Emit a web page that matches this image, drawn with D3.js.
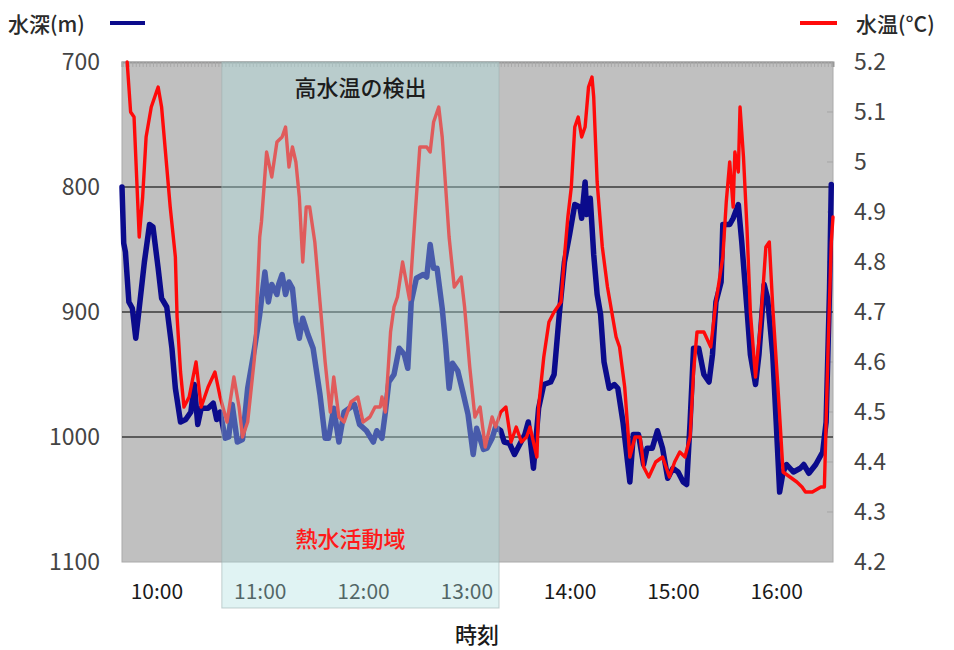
<!DOCTYPE html>
<html>
<head>
<meta charset="utf-8">
<script src="https://cdn.jsdelivr.net/npm/d3@7"></script>
<style>
  body { margin: 0; background: #fff; }
  text { font-family: "Noto Sans CJK JP", "Noto Sans", sans-serif; }
</style>
</head>
<body>
<div id="chart"></div>
<script>
// depth (m) over time
var depthSeries = [
  ["09:40",800],["09:41",845],["09:42",852],["09:44",892],["09:46",897],["09:48",921],["09:50",897],
  ["09:53",860],["09:56",830],["09:58",832],["10:01",865],["10:03",889],["10:06",896],["10:09",929],
  ["10:11",961],["10:14",988],["10:17",986],["10:20",980],["10:22",958],["10:24",990],["10:26",977],
  ["10:30",977],["10:33",973],["10:35",986],["10:37",980],["10:40",1001],["10:42",1000],["10:44",974],
  ["10:47",1004],["10:50",1002],["10:53",961],["10:57",929],["11:00",902],["11:03",868],["11:05",892],
  ["11:07",878],["11:10",886],["11:11",878],["11:13",870],["11:15",886],["11:17",876],["11:19",881],
  ["11:21",908],["11:23",921],["11:25",905],["11:28",918],["11:31",929],["11:35",966],["11:38",1001],
  ["11:40",1001],["11:43",977],["11:46",1004],["11:49",980],["11:52",977],["11:55",974],["11:58",990],
  ["12:02",995],["12:06",1004],["12:08",995],["12:11",1001],["12:13",980],["12:15",956],["12:18",950],
  ["12:21",929],["12:24",934],["12:26",945],["12:28",892],["12:31",873],["12:35",870],["12:37",872],
  ["12:39",846],["12:41",865],["12:43",865],["12:46",897],["12:48",926],["12:50",961],["12:52",941],
  ["12:55",947],["12:58",964],["13:01",982],["13:04",1014],["13:06",993],["13:10",1010],["13:12",1009],
  ["13:15",1001],["13:17",992],["13:20",995],["13:22",1004],["13:25",1005],["13:28",1014],["13:31",1006],
  ["13:34",998],["13:36",988],["13:39",1025],["13:42",977],["13:45",958],["13:49",956],["13:51",950],
  ["13:54",902],["13:57",860],["14:00",838],["14:03",814],["14:06",816],["14:07",825],["14:09",796],
  ["14:10",822],["14:12",809],["14:14",854],["14:16",886],["14:18",902],["14:20",940],["14:23",961],
  ["14:26",958],["14:28",961],["14:31",988],["14:35",1036],["14:37",998],["14:40",998],["14:43",1022],
  ["14:45",1009],["14:48",1009],["14:51",995],["14:54",1009],["14:57",1033],["15:00",1025],["15:03",1028],
  ["15:06",1036],["15:08",1038],["15:10",988],["15:12",929],["15:15",929],["15:18",950],["15:21",956],
  ["15:23",934],["15:25",892],["15:28",876],["15:29",830],["15:33",830],["15:35",825],["15:38",814],
  ["15:40",844],["15:43",897],["15:45",934],["15:48",958],["15:50",934],["15:53",878],["15:55",889],
  ["15:58",934],["16:00",988],["16:02",1044],["16:04",1028],["16:06",1022],["16:10",1028],["16:14",1025],
  ["16:16",1022],["16:19",1029],["16:23",1022],["16:27",1012],["16:29",988],["16:31",881],["16:32",798]
];

// water temperature (C) over time
var tempSeries = [
  ["09:43",5.2],["09:45",5.10],["09:47",5.09],["09:48",5.01],["09:50",4.85],["09:52",4.93],["09:54",5.05],
  ["09:57",5.11],["10:01",5.15],["10:03",5.11],["10:06",4.99],["10:08",4.91],["10:11",4.81],["10:12",4.69],
  ["10:14",4.58],["10:16",4.51],["10:19",4.53],["10:23",4.60],["10:26",4.51],["10:30",4.55],["10:34",4.58],
  ["10:37",4.53],["10:41",4.48],["10:45",4.57],["10:48",4.51],["10:50",4.45],["10:53",4.48],["10:57",4.61],
  ["11:00",4.85],["11:01",4.88],["11:04",5.02],["11:07",4.97],["11:10",5.04],["11:13",5.05],["11:15",5.07],
  ["11:17",4.99],["11:19",5.03],["11:21",5.00],["11:23",4.93],["11:25",4.80],["11:27",4.91],["11:29",4.91],
  ["11:32",4.84],["11:35",4.72],["11:38",4.60],["11:41",4.50],["11:43",4.57],["11:46",4.49],["11:49",4.48],
  ["11:53",4.52],["11:57",4.53],["12:00",4.48],["12:04",4.49],["12:07",4.51],["12:10",4.51],["12:11",4.53],
  ["12:13",4.50],["12:16",4.66],["12:18",4.71],["12:20",4.73],["12:23",4.80],["12:27",4.725],["12:30",4.88],
  ["12:33",5.03],["12:37",5.03],["12:39",5.02],["12:41",5.08],["12:42",5.09],["12:44",5.11],["12:46",5.05],
  ["12:48",4.95],["12:50",4.85],["12:53",4.75],["12:57",4.77],["12:59",4.71],["13:02",4.59],["13:05",4.49],
  ["13:08",4.51],["13:11",4.43],["13:13",4.46],["13:15",4.49],["13:17",4.47],["13:20",4.50],["13:23",4.51],
  ["13:26",4.44],["13:29",4.47],["13:32",4.44],["13:35",4.45],["13:37",4.47],["13:41",4.41],["13:42",4.51],
  ["13:45",4.61],["13:48",4.68],["13:51",4.70],["13:55",4.72],["13:57",4.81],["13:59",4.89],["14:01",4.95],
  ["14:03",5.07],["14:05",5.09],["14:07",5.05],["14:09",5.07],["14:11",5.15],["14:13",5.17],["14:14",5.13],
  ["14:16",4.96],["14:19",4.83],["14:22",4.75],["14:25",4.69],["14:27",4.65],["14:29",4.63],["14:32",4.55],
  ["14:35",4.41],["14:38",4.45],["14:41",4.45],["14:43",4.39],["14:46",4.37],["14:50",4.40],["14:54",4.41],
  ["14:58",4.37],["15:01",4.40],["15:04",4.42],["15:07",4.41],["15:10",4.45],["15:12",4.58],["15:14",4.66],
  ["15:18",4.66],["15:22",4.63],["15:25",4.72],["15:29",4.81],["15:31",4.92],["15:33",5.00],["15:35",4.91],
  ["15:36",5.02],["15:38",4.98],["15:39",5.11],["15:41",5.01],["15:43",4.87],["15:45",4.70],["15:48",4.57],
  ["15:51",4.68],["15:54",4.83],["15:56",4.84],["15:58",4.71],["16:01",4.55],["16:04",4.38],["16:08",4.37],
  ["16:12",4.36],["16:15",4.35],["16:17",4.34],["16:21",4.34],["16:26",4.35],["16:28",4.35],["16:30",4.61],
  ["16:32",4.84],["16:33",4.89]
];

var depthTicks = [700, 800, 900, 1000, 1100];
var depthGrid = [800, 900, 1000];
var tempTicks = [5.2, 5.1, 5.0, 4.9, 4.8, 4.7, 4.6, 4.5, 4.4, 4.3, 4.2];
var hourTicks = ["10:00", "11:00", "12:00", "13:00", "14:00", "15:00", "16:00"];
var timeRange = ["09:40", "16:33"];
var hotZone = ["10:38", "13:19"];

var parseTime = d3.timeParse("%H:%M");

const W = 954, H = 650;
const plot = { left: 122, right: 833, top: 62, bottom: 562 };

const svg = d3.select("#chart").append("svg")
  .attr("width", W).attr("height", H);

const x = d3.scaleTime()
  .domain(timeRange.map(parseTime))
  .range([plot.left, plot.right]);

const yDepth = d3.scaleLinear().domain([700, 1100]).range([plot.top, plot.bottom]);
const yTemp = d3.scaleLinear().domain([5.2, 4.2]).range([plot.top, plot.bottom]);

// plot background
svg.append("rect")
  .attr("x", plot.left).attr("y", plot.top)
  .attr("width", plot.right - plot.left).attr("height", plot.bottom - plot.top)
  .attr("fill", "#c0c0c0")
  .attr("stroke", "#aaa").attr("stroke-width", 1);

// hatch strip on top edge
const topAxis = d3.axisTop(x)
  .ticks(d3.timeMinute.every(2))
  .tickSize(-5)
  .tickFormat("");
const topG = svg.append("g").attr("transform", `translate(0,${plot.top})`).call(topAxis);
topG.select(".domain").attr("stroke", "#999").attr("stroke-width", 2);
topG.selectAll(".tick line").attr("stroke", "#a8a8a8");

// right inner ticks
svg.append("g").selectAll("line")
  .data(tempTicks.slice(1, -1))
  .enter().append("line")
  .attr("x1", plot.right - 6).attr("x2", plot.right)
  .attr("y1", d => yTemp(d)).attr("y2", d => yTemp(d))
  .attr("stroke", "#a5a5a5");

// gridlines
svg.append("g").selectAll("line")
  .data(depthGrid)
  .enter().append("line")
  .attr("x1", plot.left).attr("x2", plot.right)
  .attr("y1", d => yDepth(d)).attr("y2", d => yDepth(d))
  .attr("stroke", "#3a3a3a").attr("stroke-width", 1.6);

// lines
const depthLine = d3.line()
  .x(d => x(parseTime(d[0])))
  .y(d => yDepth(d[1]));

const tempLine = d3.line()
  .x(d => x(parseTime(d[0])))
  .y(d => yTemp(d[1]));

svg.append("path")
  .datum(depthSeries)
  .attr("d", depthLine)
  .attr("fill", "none")
  .attr("stroke", "#0b0b8c")
  .attr("stroke-width", 5.5)
  .attr("stroke-linejoin", "round")
  .attr("stroke-linecap", "round");

svg.append("path")
  .datum(tempSeries)
  .attr("d", tempLine)
  .attr("fill", "none")
  .attr("stroke", "#ff0a0a")
  .attr("stroke-width", 3.4)
  .attr("stroke-linejoin", "round")
  .attr("stroke-linecap", "round");

// left axis labels
svg.append("g").selectAll("text")
  .data(depthTicks)
  .enter().append("text")
  .attr("x", 100).attr("y", d => yDepth(d))
  .attr("dy", "0.35em")
  .attr("text-anchor", "end")
  .attr("font-size", "23px")
  .attr("fill", "#444")
  .text(d => d);

// right axis labels
svg.append("g").selectAll("text")
  .data(tempTicks)
  .enter().append("text")
  .attr("x", 854).attr("y", d => yTemp(d))
  .attr("dy", "0.35em")
  .attr("font-size", "23px")
  .attr("fill", "#444")
  .text(d => d3.format("~g")(d));

// time axis
const xAxis = d3.axisBottom(x)
  .tickValues(hourTicks.map(parseTime))
  .tickFormat(d3.timeFormat("%H:%M"))
  .tickSize(0)
  .tickPadding(0);
const xG = svg.append("g").attr("transform", `translate(0,${plot.bottom + 30})`).call(xAxis);
xG.select(".domain").remove();
xG.selectAll("text")
  .attr("dy", "0.35em")
  .attr("font-size", "21px")
  .attr("fill", "#1a1a1a")
  .style("font-family", "'Noto Sans CJK JP', sans-serif");

// hydrothermal zone overlay
svg.append("rect")
  .attr("x", x(parseTime(hotZone[0])))
  .attr("y", plot.top)
  .attr("width", x(parseTime(hotZone[1])) - x(parseTime(hotZone[0])))
  .attr("height", 608 - plot.top)
  .attr("fill", "rgb(174,224,224)")
  .attr("fill-opacity", 0.38)
  .attr("stroke", "#9fb0b0")
  .attr("stroke-opacity", 0.6);

const zoneMid = (x(parseTime(hotZone[0])) + x(parseTime(hotZone[1]))) / 2;

svg.append("text")
  .attr("x", zoneMid).attr("y", 88)
  .attr("dy", "0.35em")
  .attr("text-anchor", "middle")
  .attr("font-size", "22px")
  .attr("font-weight", 500)
  .attr("fill", "#1c1c1c")
  .text("高水温の検出");

svg.append("text")
  .attr("x", zoneMid - 10).attr("y", 539)
  .attr("dy", "0.35em")
  .attr("text-anchor", "middle")
  .attr("font-size", "22px")
  .attr("font-weight", 500)
  .attr("fill", "#ff1a1a")
  .text("熱水活動域");

// x title
svg.append("text")
  .attr("x", 477).attr("y", 635)
  .attr("dy", "0.35em")
  .attr("text-anchor", "middle")
  .attr("font-size", "22px")
  .attr("font-weight", 500)
  .attr("fill", "#1a1a1a")
  .text("時刻");

// legends
svg.append("text")
  .attr("x", 8).attr("y", 25)
  .attr("dy", "0.35em")
  .attr("font-size", "21px")
  .attr("font-weight", 500)
  .attr("fill", "#2a2a2a")
  .text("水深(m)");
svg.append("line")
  .attr("x1", 110).attr("x2", 145).attr("y1", 23).attr("y2", 23)
  .attr("stroke", "#0b0b8c").attr("stroke-width", 4);

svg.append("line")
  .attr("x1", 800).attr("x2", 837).attr("y1", 23).attr("y2", 23)
  .attr("stroke", "#ff0a0a").attr("stroke-width", 4);
svg.append("text")
  .attr("x", 856).attr("y", 25)
  .attr("dy", "0.35em")
  .attr("font-size", "21px")
  .attr("font-weight", 500)
  .attr("fill", "#2a2a2a")
  .text("水温(°C)");
</script>
</body>
</html>
